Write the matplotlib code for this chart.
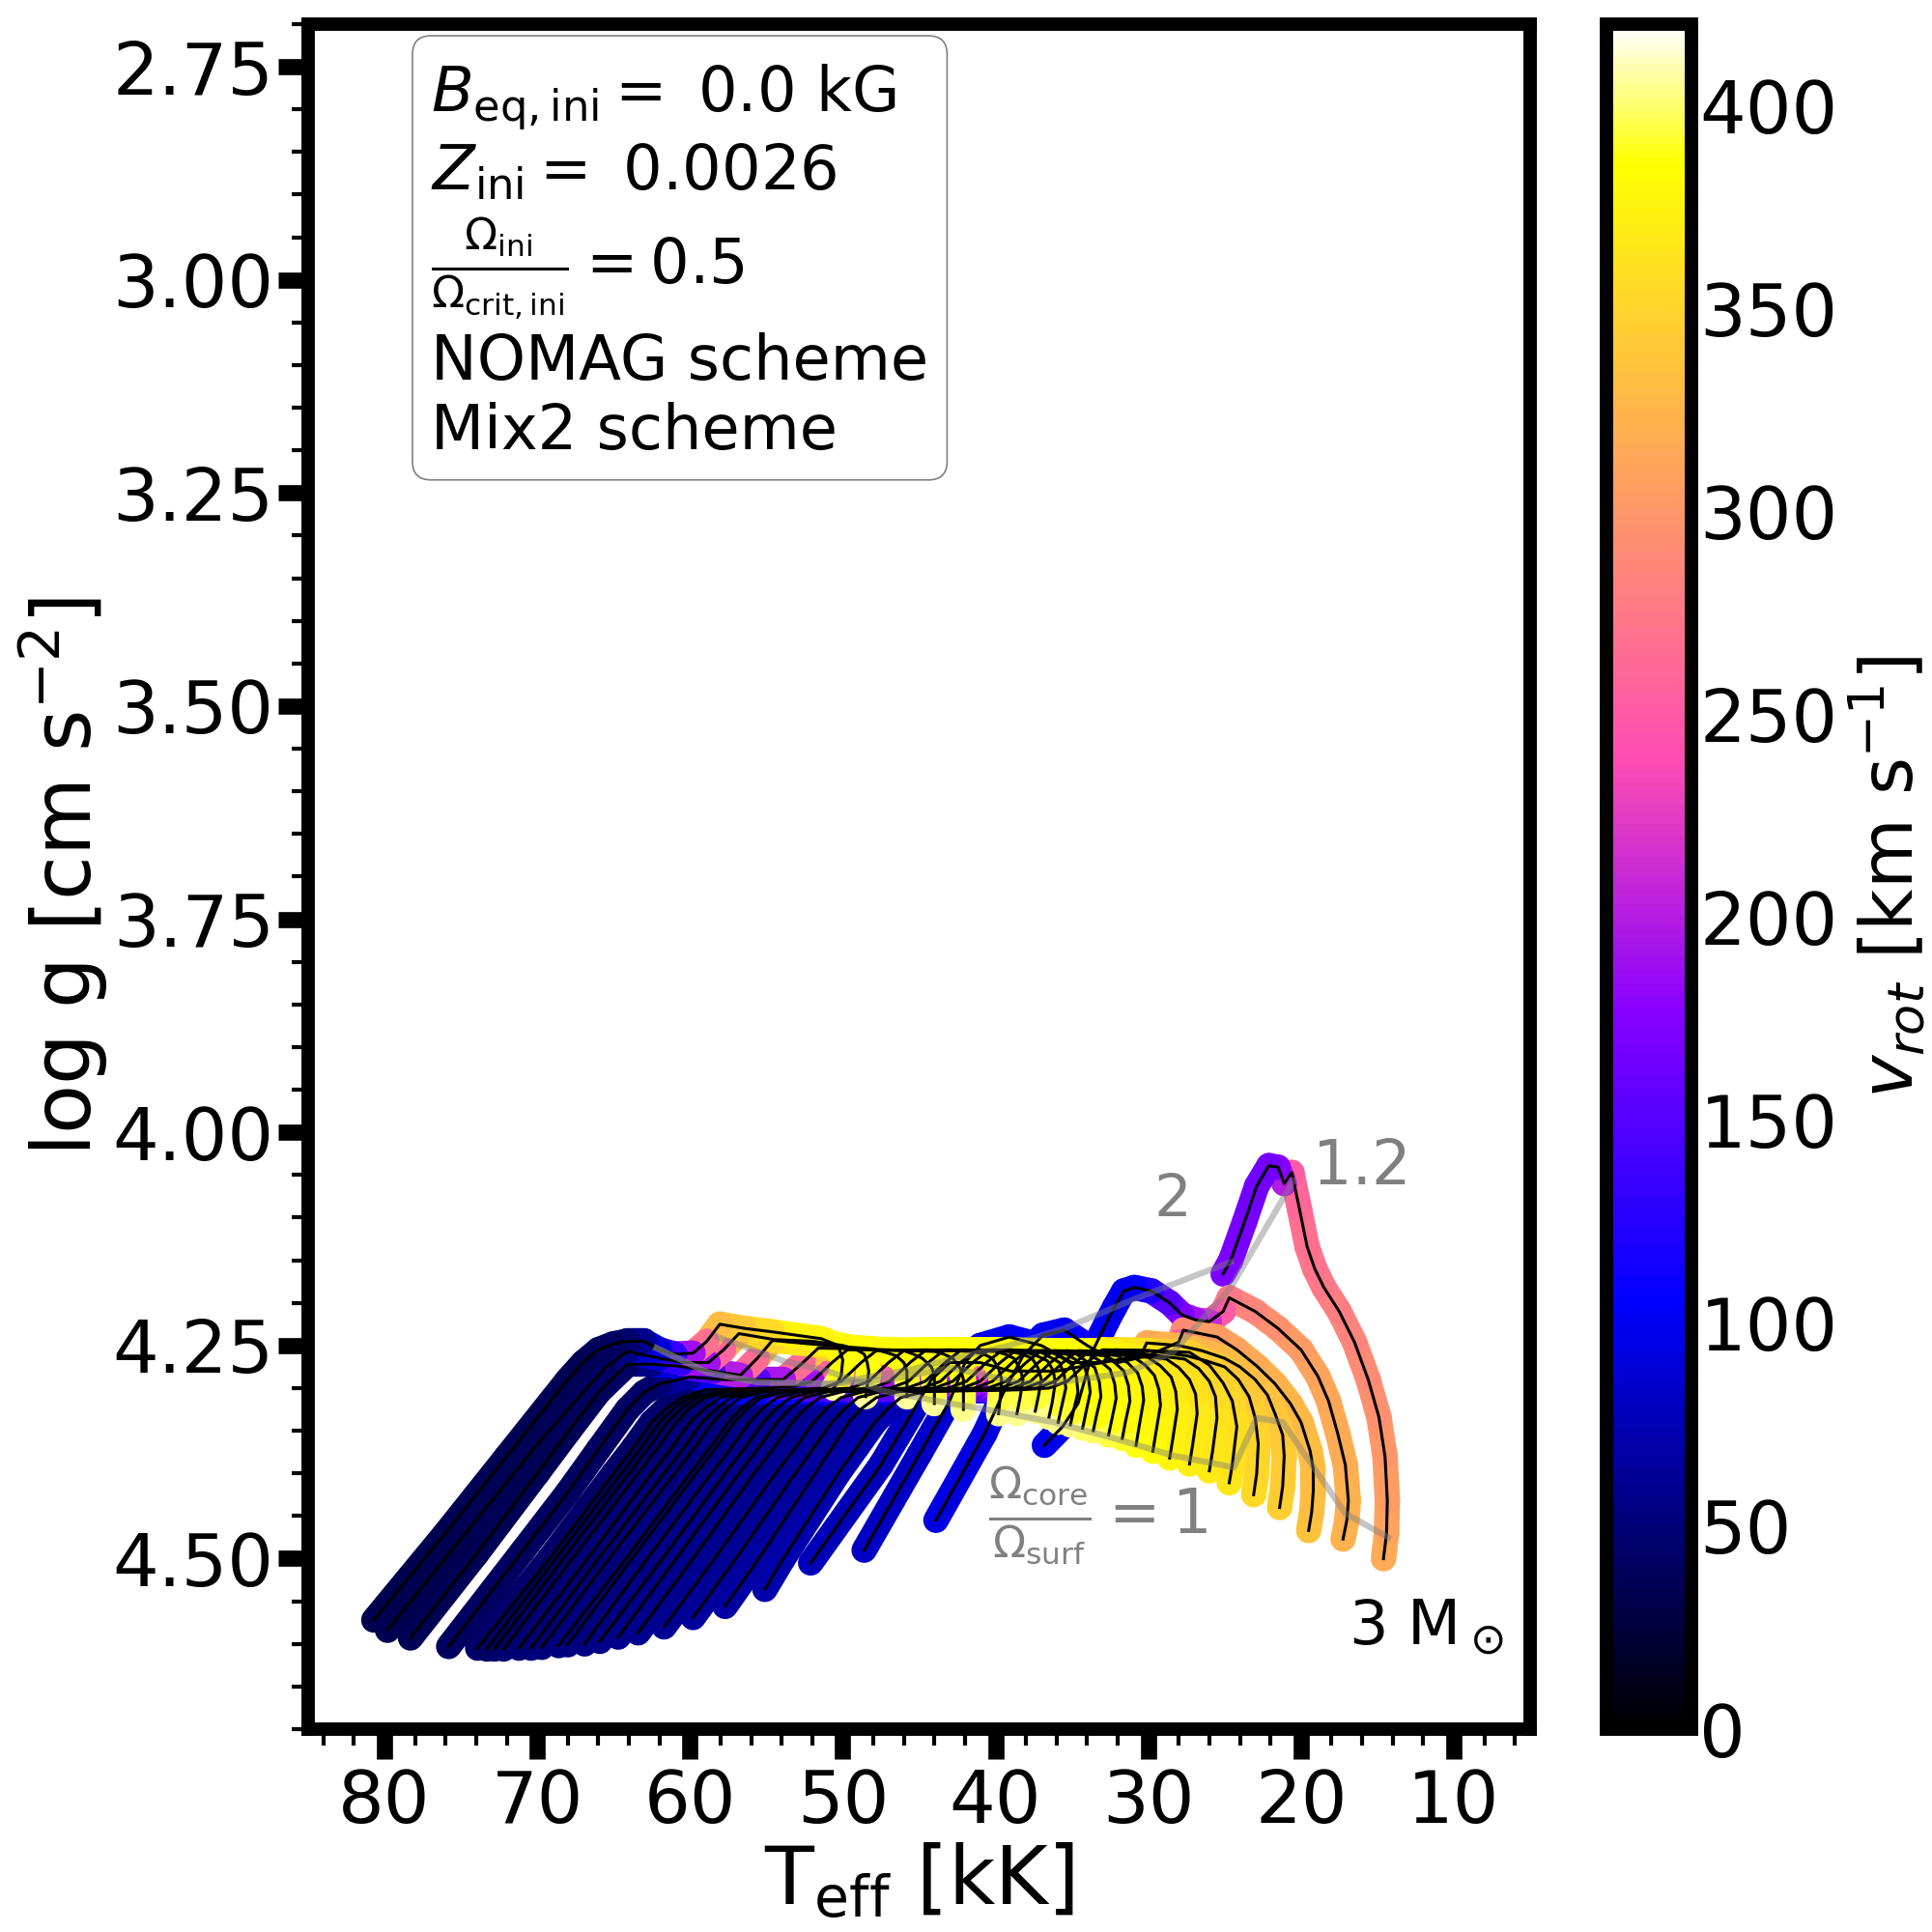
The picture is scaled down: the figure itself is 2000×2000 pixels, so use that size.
"""Kiel diagram of rotating stellar tracks, coloured by surface rotation."""
import matplotlib
matplotlib.use('Agg')
import matplotlib.pyplot as plt
from matplotlib.cm import ScalarMappable
from matplotlib.collections import LineCollection
from matplotlib.colors import Normalize
from matplotlib.ticker import AutoMinorLocator

# Tracks run from the lowest mass (3 Msun) to the highest mass
TEFF_TRACKS = [
    [14.6, 14.4, 14.35, 14.5, 14.9, 15.6, 16.5, 17.5, 18.5, 19.1, 19.6, 20.1, 20.6, 21.1, 21.5, 22.1, 22.9, 23.7, 24.6, 25.1],
    [17.25, 17.0, 16.9, 17.1, 17.6, 18.2, 18.9, 20, 21.5, 23, 24.7, 25.1, 26, 26.9, 27.8, 28.6, 29.8, 30.9, 31.6, 32.2, 32.7, 33.6, 34.6, 35.6, 36.8],
    [19.5, 19.3, 19.2, 19.2, 19.4, 20, 20.7, 21.7, 22.9, 24.2, 25.5, 27.7, 28, 30, 32, 34, 35.5, 36.9, 38.2, 39.5, 40.7, 43.9],
    [21.4, 21.2, 21.1, 21.2, 21.7, 22.2, 23, 24, 25, 26.5, 28, 30.1, 30.5, 33, 35, 37, 39.1, 41, 42, 43, 45, 48.6],
    [23.1, 22.9, 22.8, 23, 23.4, 24.1, 25, 26.2, 27.5, 30, 32.2, 33, 36, 39, 41, 43, 44.2, 45.5, 47.5, 52.1],
    [24.7, 24.5, 24.2, 24.5, 25.1, 26, 27.3, 30, 33, 34, 35.3, 36.5, 38.5, 44.6, 46.2, 47, 47.9, 49.1, 50.3, 53.9, 55.1],
    [26, 25.8, 25.5, 25.6, 26, 26.7, 27.6, 31, 33.8, 34.8, 36.1, 37.3, 39.3, 46.3, 47.8, 48.7, 49.6, 50.7, 51.8, 55.5, 57.7],
    [27.3, 27.1, 26.8, 26.9, 27.3, 28, 28.8, 32, 34.6, 35.6, 36.9, 38.1, 40.1, 47.5, 49, 49.8, 50.7, 51.9, 53.1, 57, 59.8],
    [28.6, 28.4, 28.1, 28.2, 28.5, 29.2, 30, 33, 35.4, 36.4, 37.7, 38.9, 40.9, 48.6, 50.1, 51, 51.9, 53.1, 54.4, 58.4, 61.7],
    [29.7, 29.5, 29.2, 29.3, 29.6, 30.2, 31, 33.5, 36.2, 37.2, 38.5, 39.7, 41.7, 50, 51.5, 52.4, 53.3, 54.5, 55.8, 59.8, 63.4],
    [30.8, 30.6, 30.3, 30.4, 30.7, 31.3, 32, 34.5, 37, 38, 39.3, 40.5, 42.5, 50.9, 52.5, 53.4, 54.3, 55.5, 56.8, 60.9, 64.7],
    [31.7, 31.5, 31.2, 31.3, 31.6, 32.2, 32.9, 35.5, 37.9, 38.9, 40.2, 41.4, 43.4, 51.8, 53.4, 54.3, 55.2, 56.4, 57.7, 61.8, 65.9],
    [32.6, 32.4, 32.1, 32.2, 32.5, 33.1, 33.8, 36, 38.7, 39.7, 41, 42.2, 44.2, 52.7, 54.3, 55.2, 56.1, 57.3, 58.6, 62.8, 66.9],
    [33.6, 33.4, 33.1, 33.2, 33.5, 34.1, 34.7, 37, 39.6, 40.6, 41.9, 43.1, 45.1, 53.6, 55.3, 56.2, 57.1, 58.3, 59.6, 63.8, 68],
    [34.3, 34.1, 33.8, 33.9, 34.2, 34.8, 35.4, 38, 40.5, 41.5, 42.8, 44, 46, 54, 55.7, 56.6, 57.5, 58.7, 60, 64.2, 68.6],
    [35.1, 34.9, 34.6, 34.7, 35, 35.6, 36.2, 39, 41.3, 42.3, 43.6, 44.8, 46.8, 55, 56.7, 57.6, 58.5, 59.7, 61, 65.3, 69.7],
    [35.9, 35.7, 35.4, 35.5, 35.8, 36.4, 37, 40, 42.3, 43.3, 44.6, 45.8, 47.8, 55.5, 57.3, 58.2, 59.2, 60.4, 61.7, 66, 70.4],
    [36.5, 36.3, 36.1, 36.2, 36.6, 37.3, 38, 41, 43.4, 44.4, 45.7, 46.9, 48.9, 56, 58, 59, 60, 61.2, 62.5, 66.7, 71.2],
    [37.4, 37.2, 37, 37.2, 37.6, 38.3, 39, 42, 44.6, 45.6, 46.9, 48.1, 50.1, 57, 59, 60, 60.9, 62.1, 63.4, 67.7, 72.2],
    [38.6, 38.4, 38.2, 38.4, 38.8, 39.4, 40, 43, 46, 47, 48.3, 49.5, 51.5, 57.5, 59.5, 60.5, 61.5, 62.7, 64, 68.3, 72.8],
    [39.8, 39.7, 39.6, 39.8, 40.2, 40.8, 41.5, 44.5, 47.8, 48.8, 50.1, 51.3, 53.3, 58, 60, 61, 62, 63.2, 64.5, 68.8, 73.3],
    [42.1, 42.1, 42.1, 42.3, 42.8, 43.4, 44, 47, 49.7, 50.7, 52, 53.2, 55.2, 59, 60.5, 61.5, 62.5, 63.7, 65, 69.2, 73.9],
    [44, 44, 44, 44.2, 44.8, 45.4, 46, 49, 51.6, 52.6, 53.9, 55.5, 57.7, 60, 62, 63, 64.1, 66, 68, 71, 75.8],
    [45.8, 45.8, 45.8, 46, 46.5, 47.2, 48, 51, 54.6, 55.6, 56.7, 58.5, 60.9, 62.5, 64.1, 66, 68, 70, 74, 78.3],
    [48.5, 48.4, 48.3, 48.4, 48.6, 49.2, 50, 52, 54.5, 56.8, 57.8, 58.8, 60.5, 62, 64.1, 65.5, 67.5, 70, 75, 79.8],
    [50.6, 50.3, 50.1, 50, 50.3, 51.4, 54.6, 56.4, 58.05, 58.9, 59.8, 61, 62, 63, 64.1, 65, 66, 67, 68, 72, 76, 80.7],
]
LOGG_TRACKS = [
    [4.50, 4.47, 4.432, 4.38, 4.334, 4.29, 4.246, 4.21, 4.182, 4.16, 4.134, 4.09, 4.047, 4.06, 4.041, 4.039, 4.063, 4.105, 4.15, 4.166],
    [4.477, 4.455, 4.432, 4.39, 4.353, 4.315, 4.286, 4.255, 4.23, 4.21, 4.194, 4.21, 4.222, 4.22, 4.214, 4.2, 4.186, 4.182, 4.186, 4.205, 4.222, 4.255, 4.318, 4.345, 4.367],
    [4.467, 4.445, 4.421, 4.395, 4.374, 4.34, 4.318, 4.295, 4.274, 4.255, 4.24, 4.232, 4.246, 4.262, 4.27, 4.25, 4.232, 4.238, 4.262, 4.306, 4.353, 4.455],
    [4.44, 4.415, 4.38, 4.355, 4.33, 4.308, 4.29, 4.275, 4.265, 4.256, 4.25, 4.247, 4.262, 4.27, 4.27, 4.25, 4.24, 4.25, 4.27, 4.315, 4.378, 4.49],
    [4.425, 4.4, 4.365, 4.335, 4.31, 4.29, 4.275, 4.268, 4.262, 4.256, 4.255, 4.27, 4.28, 4.28, 4.27, 4.27, 4.29, 4.33, 4.39, 4.505],
    [4.411, 4.39, 4.345, 4.315, 4.294, 4.273, 4.258, 4.256, 4.255, 4.27, 4.292, 4.30, 4.302, 4.304, 4.311, 4.323, 4.34, 4.37, 4.40, 4.50, 4.536],
    [4.397, 4.375, 4.335, 4.31, 4.292, 4.277, 4.266, 4.258, 4.256, 4.27, 4.292, 4.30, 4.302, 4.304, 4.311, 4.323, 4.34, 4.37, 4.40, 4.50, 4.556],
    [4.389, 4.367, 4.33, 4.307, 4.29, 4.276, 4.266, 4.258, 4.256, 4.27, 4.292, 4.30, 4.302, 4.304, 4.311, 4.323, 4.34, 4.37, 4.40, 4.50, 4.569],
    [4.382, 4.36, 4.325, 4.304, 4.287, 4.274, 4.264, 4.258, 4.256, 4.27, 4.292, 4.30, 4.302, 4.304, 4.311, 4.323, 4.34, 4.37, 4.40, 4.50, 4.58],
    [4.374, 4.352, 4.32, 4.302, 4.285, 4.273, 4.263, 4.257, 4.256, 4.27, 4.292, 4.30, 4.302, 4.304, 4.311, 4.323, 4.34, 4.37, 4.40, 4.50, 4.587],
    [4.367, 4.345, 4.314, 4.298, 4.282, 4.271, 4.262, 4.257, 4.256, 4.27, 4.292, 4.30, 4.302, 4.304, 4.311, 4.323, 4.34, 4.37, 4.40, 4.50, 4.592],
    [4.359, 4.34, 4.315, 4.297, 4.28, 4.27, 4.262, 4.257, 4.256, 4.27, 4.292, 4.30, 4.302, 4.304, 4.311, 4.323, 4.34, 4.37, 4.40, 4.50, 4.597],
    [4.355, 4.338, 4.312, 4.295, 4.278, 4.269, 4.261, 4.257, 4.256, 4.27, 4.292, 4.30, 4.302, 4.304, 4.311, 4.323, 4.34, 4.37, 4.40, 4.50, 4.60],
    [4.35, 4.333, 4.31, 4.293, 4.276, 4.268, 4.26, 4.256, 4.256, 4.27, 4.292, 4.30, 4.302, 4.304, 4.311, 4.323, 4.34, 4.37, 4.40, 4.50, 4.601],
    [4.347, 4.33, 4.305, 4.29, 4.274, 4.266, 4.26, 4.256, 4.256, 4.27, 4.292, 4.30, 4.302, 4.304, 4.311, 4.323, 4.34, 4.37, 4.40, 4.50, 4.602],
    [4.343, 4.327, 4.305, 4.288, 4.272, 4.265, 4.259, 4.255, 4.256, 4.27, 4.292, 4.30, 4.302, 4.304, 4.311, 4.323, 4.34, 4.37, 4.40, 4.50, 4.604],
    [4.34, 4.324, 4.30, 4.285, 4.27, 4.264, 4.258, 4.255, 4.256, 4.27, 4.292, 4.30, 4.302, 4.304, 4.311, 4.323, 4.34, 4.37, 4.40, 4.50, 4.605],
    [4.334, 4.318, 4.295, 4.28, 4.268, 4.262, 4.258, 4.255, 4.256, 4.27, 4.292, 4.30, 4.302, 4.304, 4.311, 4.323, 4.34, 4.37, 4.40, 4.50, 4.605],
    [4.327, 4.31, 4.29, 4.277, 4.265, 4.26, 4.257, 4.255, 4.256, 4.27, 4.292, 4.30, 4.302, 4.304, 4.311, 4.323, 4.34, 4.37, 4.40, 4.50, 4.606],
    [4.33, 4.312, 4.29, 4.277, 4.265, 4.26, 4.257, 4.255, 4.256, 4.27, 4.292, 4.30, 4.302, 4.304, 4.311, 4.323, 4.34, 4.37, 4.40, 4.50, 4.606],
    [4.33, 4.312, 4.29, 4.277, 4.265, 4.26, 4.257, 4.255, 4.256, 4.27, 4.292, 4.30, 4.302, 4.304, 4.311, 4.323, 4.34, 4.37, 4.40, 4.50, 4.606],
    [4.325, 4.31, 4.29, 4.277, 4.265, 4.26, 4.257, 4.255, 4.255, 4.27, 4.292, 4.298, 4.30, 4.302, 4.311, 4.323, 4.34, 4.37, 4.40, 4.50, 4.605],
    [4.318, 4.305, 4.285, 4.275, 4.265, 4.26, 4.256, 4.254, 4.253, 4.27, 4.29, 4.29, 4.29, 4.287, 4.295, 4.305, 4.325, 4.372, 4.422, 4.492, 4.603],
    [4.31, 4.297, 4.28, 4.27, 4.262, 4.258, 4.254, 4.25, 4.244, 4.265, 4.285, 4.28, 4.274, 4.272, 4.272, 4.305, 4.352, 4.40, 4.495, 4.593],
    [4.31, 4.297, 4.28, 4.27, 4.26, 4.254, 4.25, 4.245, 4.243, 4.236, 4.255, 4.27, 4.27, 4.265, 4.257, 4.275, 4.315, 4.366, 4.477, 4.584],
    [4.30, 4.292, 4.285, 4.267, 4.25, 4.242, 4.234, 4.23, 4.225, 4.245, 4.259, 4.26, 4.255, 4.245, 4.245, 4.248, 4.255, 4.27, 4.29, 4.38, 4.47, 4.572],
]
VROT_TRACKS = [
    [315, 310, 305, 300, 295, 290, 285, 280, 275, 272, 268, 262, 250, 200, 175, 165, 165, 168, 170, 190],
    [322, 321, 320, 318, 315, 313, 310, 303, 295, 285, 275, 250, 210, 190, 170, 150, 120, 105, 100, 100, 100, 95, 95, 97, 100],
    [335, 333, 332, 331, 330, 328, 325, 320, 315, 310, 305, 290, 250, 190, 150, 110, 100, 100, 95, 95, 92, 90],
    [345, 344, 342, 340, 338, 335, 332, 330, 328, 325, 322, 315, 250, 190, 130, 105, 100, 95, 90, 85, 82, 80],
    [355, 352, 350, 345, 340, 338, 335, 335, 335, 335, 340, 260, 190, 130, 105, 95, 85, 80, 76, 74],
    [365, 362, 358, 352, 348, 346, 345, 360, 380, 260, 190, 150, 105, 85, 74, 73, 72, 72, 72, 72, 72],
    [368, 365, 362, 357, 354, 352, 352, 370, 385, 260, 190, 150, 105, 82, 70, 69, 68, 68, 68, 68, 68],
    [372, 369, 366, 362, 360, 358, 360, 378, 386, 260, 190, 150, 105, 80, 66, 65, 64, 64, 64, 64, 64],
    [378, 374, 371, 368, 366, 365, 368, 382, 386, 260, 190, 150, 105, 78, 64, 63, 62, 62, 62, 62, 62],
    [383, 378, 375, 372, 370, 370, 374, 386, 386, 260, 190, 150, 105, 76, 62, 61, 60, 60, 60, 60, 60],
    [388, 382, 378, 375, 374, 374, 378, 386, 386, 260, 190, 150, 105, 74, 60, 59, 58, 58, 58, 58, 58],
    [392, 384, 380, 378, 377, 378, 382, 386, 386, 260, 190, 150, 105, 72, 58, 57, 57, 57, 57, 57, 56],
    [395, 386, 383, 381, 380, 381, 385, 386, 386, 260, 190, 150, 105, 70, 57, 56, 56, 56, 56, 55, 55],
    [398, 386, 385, 384, 384, 384, 386, 386, 386, 260, 190, 150, 105, 68, 56, 55, 55, 55, 55, 54, 54],
    [400, 388, 386, 385, 385, 385, 386, 386, 386, 260, 190, 150, 105, 66, 55, 54, 54, 54, 54, 53, 53],
    [402, 390, 386, 386, 386, 386, 386, 386, 386, 260, 190, 150, 105, 64, 54, 53, 53, 53, 53, 52, 52],
    [403, 392, 386, 386, 386, 386, 386, 386, 386, 260, 190, 150, 105, 62, 53, 52, 52, 52, 51, 51, 50],
    [404, 393, 386, 386, 386, 386, 386, 386, 386, 260, 190, 150, 105, 60, 52, 51, 51, 50, 50, 49, 49],
    [404, 393, 386, 386, 386, 386, 386, 386, 386, 260, 190, 150, 105, 58, 51, 50, 50, 49, 49, 48, 48],
    [405, 394, 386, 386, 386, 386, 386, 386, 384, 260, 190, 150, 105, 56, 50, 49, 49, 48, 48, 47, 47],
    [405, 394, 386, 386, 386, 386, 386, 386, 380, 260, 190, 150, 105, 54, 48, 47, 47, 46, 46, 45, 45],
    [405, 394, 386, 386, 386, 386, 386, 378, 360, 260, 190, 150, 105, 52, 46, 45, 45, 44, 44, 43, 43],
    [406, 394, 386, 386, 386, 386, 378, 350, 335, 265, 195, 150, 105, 65, 48, 44, 42, 41, 40, 40, 40],
    [406, 394, 386, 386, 386, 384, 380, 365, 335, 265, 200, 145, 90, 55, 42, 38, 36, 35, 35, 34],
    [406, 396, 388, 386, 386, 384, 378, 365, 350, 325, 260, 190, 130, 85, 55, 42, 38, 35, 34, 33],
    [406, 396, 388, 386, 380, 375, 355, 340, 330, 270, 190, 130, 90, 60, 45, 40, 38, 36, 36, 35, 34, 33],
]

# Lines of constant core to surface rotation ratio
RATIO_ONE_TEFF = [14.3, 17.1, 21.2, 22.9, 24.4, 28.4, 32.4, 36.2, 40.3, 42.9, 47.2, 51, 53.9, 58.2]
RATIO_ONE_LOGG = [4.475, 4.447, 4.34, 4.335, 4.393, 4.379, 4.358, 4.34, 4.326, 4.318, 4.304, 4.28, 4.268, 4.24]
RATIO_TWO_TEFF = [24.6, 30.7, 35.5, 39.1, 42.9, 45.5, 50.8, 55.6, 58.8, 62.2]
RATIO_TWO_LOGG = [4.152, 4.194, 4.23, 4.25, 4.266, 4.278, 4.295, 4.293, 4.282, 4.253]
RATIO_12_TEFF = [20.5, 24.6, 28.4, 31.4, 36.2, 38.4, 42.9, 47, 50.8, 55.6, 58.8, 62.2]
RATIO_12_LOGG = [4.057, 4.182, 4.258, 4.282, 4.294, 4.294, 4.276, 4.29, 4.295, 4.293, 4.282, 4.253]

XTICKS = [80, 70, 60, 50, 40, 30, 20, 10]
YTICKS = [2.75, 3.00, 3.25, 3.50, 3.75, 4.00, 4.25, 4.50]
CBAR_TICKS = [0, 50, 100, 150, 200, 250, 300, 350, 400]

fig = plt.figure(figsize=(10, 10), dpi=200)
ax = fig.add_axes([0.1595, 0.105, 0.6325, 0.8825])
cax = fig.add_axes([0.8315, 0.105, 0.044, 0.8825])

norm = Normalize(vmin=0, vmax=420)
cmap = plt.get_cmap('gnuplot2')

# Thick coloured bands first, lowest mass at the bottom of the stack
for teff, logg, vrot in zip(TEFF_TRACKS, LOGG_TRACKS, VROT_TRACKS):
    assert len(teff) == len(logg) == len(vrot)
    points = list(zip(teff, logg))
    segments = [[points[i], points[i + 1]] for i in range(len(points) - 1)]
    band = LineCollection(segments, cmap=cmap, norm=norm, linewidths=9.5,
                          capstyle='round', joinstyle='round', zorder=2)
    band.set_array(vrot[:-1])
    ax.add_collection(band)

for teff, logg in zip(TEFF_TRACKS, LOGG_TRACKS):
    ax.plot(teff, logg, color='black', lw=1.1, zorder=3)

for teff, logg in [(RATIO_ONE_TEFF, RATIO_ONE_LOGG),
                   (RATIO_TWO_TEFF, RATIO_TWO_LOGG),
                   (RATIO_12_TEFF, RATIO_12_LOGG)]:
    ax.plot(teff, logg, color='gray', alpha=0.45, lw=2.3, zorder=4)

ax.set_xlim(85, 5)
ax.set_ylim(4.7, 2.7)
ax.set_xticks(XTICKS)
ax.set_yticks(YTICKS)
ax.set_yticklabels([f'{y:.2f}' for y in YTICKS])
ax.xaxis.set_minor_locator(AutoMinorLocator(5))
ax.yaxis.set_minor_locator(AutoMinorLocator(5))
ax.tick_params(which='major', length=11, width=6, labelsize=27)
ax.tick_params(axis='y', which='major', pad=1.7)
ax.tick_params(axis='x', which='major', pad=3.5)
ax.tick_params(which='minor', length=6, width=1.5)
for spine in ax.spines.values():
    spine.set_linewidth(5)

ax.set_xlabel(r'T$_{\mathrm{eff}}$ [kK]', fontsize=30, labelpad=1)
ax.set_ylabel(r'log g [cm s$^{-2}$]', fontsize=30, labelpad=1)

ax.text(28.4, 4.08, '2', color='gray', fontsize=22, ha='center', va='center')
ax.text(16, 4.04, '1.2', color='gray', fontsize=23, ha='center', va='center')
ax.text(33.3, 4.45, r'$\frac{\Omega_{\mathrm{core}}}{\Omega_{\mathrm{surf}}} = 1$',
        color='gray', fontsize=23, ha='center', va='center')
ax.text(11.8, 4.58, r'3 M$_\odot$', color='black', fontsize=23, ha='center', va='center')

info = ('$B_{\\mathrm{eq,ini}} =$ 0.0 kG\n'
        '$Z_{\\mathrm{ini}} =$ 0.0026\n'
        '$\\frac{\\Omega_{\\mathrm{ini}}}{\\Omega_{\\mathrm{crit,ini}}} = 0.5$\n'
        'NOMAG scheme\nMix2 scheme')
ax.text(0.1005, 0.9775, info, transform=ax.transAxes, fontsize=23, va='top', ha='left',
        linespacing=1.2,
        bbox=dict(boxstyle='round,pad=0.3', facecolor='white', edgecolor='gray', lw=0.6))

cbar = fig.colorbar(ScalarMappable(norm=norm, cmap=cmap), cax=cax, ticks=CBAR_TICKS)
cbar.ax.tick_params(labelsize=27, length=0, pad=3)
cbar.outline.set_linewidth(5)
cbar.set_label(r'$v_{rot}$ [km s$^{-1}$]', fontsize=27, labelpad=3.5)

fig.savefig('out.png', dpi=200)
